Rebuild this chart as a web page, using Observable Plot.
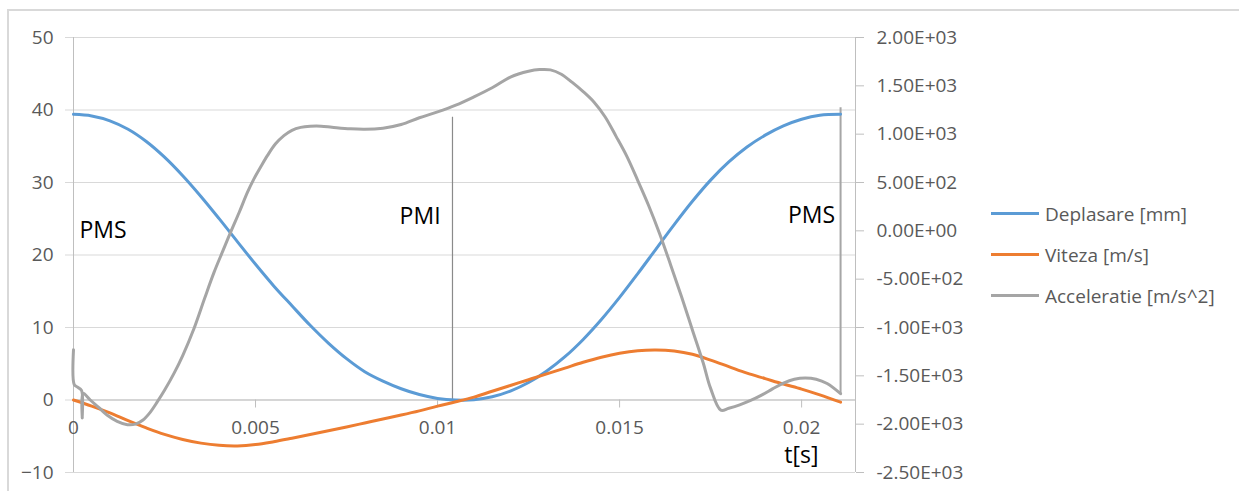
<!DOCTYPE html>
<html><head><meta charset="utf-8">
<script src="https://cdn.jsdelivr.net/npm/d3@7"></script>
<script src="https://cdn.jsdelivr.net/npm/@observablehq/plot@0.6"></script>
<style>
body{margin:0;background:#fff;}
#wrap{position:relative;width:1239px;height:491px;overflow:hidden;font-family:'Open Sans',sans-serif;}
#chart{position:absolute;left:0;top:0;}
#border{position:absolute;left:7px;top:9px;width:1300px;height:600px;border-top:2px solid #d9d9d9;border-left:2px solid #d9d9d9;pointer-events:none;}
#legend{position:absolute;left:991px;top:193px;}
.item{display:flex;align-items:center;height:41px;font-size:19px;color:#595959;white-space:nowrap;}
.sw{width:48px;height:3px;margin-right:6px;}
</style></head>
<body><div id="wrap"><div id="chart"></div><div id="border"></div><div id="legend"></div></div>
<script>
// ---- data ----
const seriesNames = ["Deplasare [mm]", "Viteza [m/s]", "Acceleratie [m/s^2]"];
const seriesColors = ["#5B9BD5", "#ED7D31", "#A5A5A5"];

const time = [0,0.0005,0.001,0.0015,0.002,0.0025,0.003,0.0035,0.004,0.0045,0.005,0.0055,0.006,0.0065,0.007,0.0075,0.008,0.0085,0.009,0.0095,0.01,0.0105,0.011,0.0115,0.012,0.0125,0.013,0.0135,0.014,0.0145,0.015,0.0155,0.016,0.0165,0.017,0.0175,0.018,0.0185,0.019,0.0195,0.02,0.0205,0.02107];
const displacement = [39.4,39.18,38.51,37.34,35.65,33.49,30.93,28.07,25.01,21.85,18.72,15.74,13.0,10.3,7.85,5.7,3.9,2.6,1.55,0.75,0.22,0.0,0.04,0.44,1.23,2.41,4.0,5.97,8.35,11.1,14.15,17.43,20.82,24.19,27.41,30.33,32.83,34.89,36.53,37.81,38.73,39.27,39.4];
const velocity = [0,-0.84,-1.78,-2.85,-3.85,-4.75,-5.45,-5.95,-6.25,-6.33,-6.15,-5.75,-5.27,-4.77,-4.25,-3.72,-3.17,-2.62,-2.08,-1.5,-0.85,-0.25,0.4,1.2,2.0,2.8,3.6,4.4,5.2,5.9,6.45,6.8,6.9,6.75,6.3,5.5,4.6,3.7,2.95,2.2,1.5,0.7,-0.3];

const accelTime = [0,0.00002,0.0001,0.00022,0.00024,0.00026,0.00046,0.0007,0.00092,0.0012,0.00148,0.0017,0.0019,0.0021,0.0023,0.0025,0.00276,0.003,0.00331,0.0036,0.00386,0.0041,0.00432,0.00455,0.00478,0.00496,0.00514,0.00533,0.00555,0.00578,0.006,0.00624,0.0065,0.0068,0.0071,0.0076,0.008,0.0085,0.009,0.0095,0.01,0.0105,0.011,0.0115,0.012,0.0125,0.0128,0.0131,0.0134,0.0137,0.014,0.0143,0.0146,0.0149,0.0152,0.0155,0.0158,0.0161,0.0164,0.0167,0.017,0.0173,0.0175,0.01778,0.018,0.0183,0.0186,0.0189,0.0192,0.0195,0.0198,0.0201,0.0204,0.0207,0.02107];
const acceleration = [-1230,-1590,-1615,-1650,-1935,-1680,-1750,-1830,-1905,-1970,-2005,-2000,-1960,-1880,-1770,-1650,-1475,-1290,-1010,-700,-430,-210,-10,190,400,540,660,780,900,985,1040,1070,1082,1083,1072,1055,1050,1062,1100,1170,1230,1300,1386,1480,1590,1650,1668,1665,1620,1535,1440,1330,1180,980,770,520,260,-30,-350,-680,-1025,-1370,-1630,-1855,-1835,-1800,-1755,-1700,-1635,-1575,-1535,-1522,-1535,-1580,-1685];

const leftTicks = [-10,0,10,20,30,40,50];
const rightTicks = [-2500,-2000,-1500,-1000,-500,0,500,1000,1500,2000];
const rightTickLabels = ["-2.50E+03","-2.00E+03","-1.50E+03","-1.00E+03","-5.00E+02","0.00E+00","5.00E+02","1.00E+03","1.50E+03","2.00E+03"];
const xTicks = [0,0.005,0.01,0.015,0.02];
const xTickLabels = ["0","0.005","0.01","0.015","0.02"];
const xLabel = "t[s]";

const annotations = [
  {label: "PMS", t: 0.00081, v: 23.3},
  {label: "PMI", t: 0.00952, v: 25.3},
  {label: "PMS", t: 0.02027, v: 25.4}
];
const markerTime = [0.01041, 0.02107];
const markerLow = [0, 0.85];
const markerHigh = [39.0, 40.3];

// ---- scales ----
const xDomain = [0, 0.02148];
const yDomain = [-10, 50];
const aDomain = [-2500, 2000];
const toLeft = a => yDomain[0] + (a - aDomain[0]) / (aDomain[1] - aDomain[0]) * (yDomain[1] - yDomain[0]);
const rightTicksLeft = rightTicks.map(toLeft);

const dispData = time.map((t, i) => ({t, v: displacement[i]}));
const velData = time.map((t, i) => ({t, v: velocity[i]}));
const accData = accelTime.map((t, i) => ({t, v: toLeft(acceleration[i])}));
const markers = markerTime.map((t, i) => ({t, y1: markerLow[i], y2: markerHigh[i]}));

const font = "'Open Sans', sans-serif";
const chart = Plot.plot({
  width: 1239,
  height: 491,
  marginLeft: 73,
  marginRight: 384,
  marginTop: 37,
  marginBottom: 19,
  x: {domain: xDomain, axis: null},
  y: {domain: yDomain, axis: null},
  style: {fontFamily: font, fontSize: "19px", color: "#595959", background: "transparent"},
  marks: [
    Plot.gridY(leftTicks, {stroke: "#d9d9d9", strokeOpacity: 1, strokeWidth: 1}),
    Plot.axisY(leftTicks, {anchor: "left", tickSize: 8, tickPadding: 12, stroke: "#d9d9d9", fill: "#595959", fontSize: 19, fontFamily: font}),
    Plot.axisY(rightTicksLeft, {anchor: "right", tickSize: 8, tickPadding: 13, stroke: "#bfbfbf", fill: "#595959", fontSize: 19, fontFamily: font,
      tickFormat: d => rightTickLabels[rightTicksLeft.findIndex(v => Math.abs(v - d) < 1e-9)]}),
    Plot.ruleX([xDomain[0]], {stroke: "#bfbfbf"}),
    Plot.ruleX([xDomain[1]], {stroke: "#bfbfbf"}),
    Plot.ruleY([0], {stroke: "#bfbfbf"}),
    Plot.ruleX(xTicks, {x: d => d, y1: 0, y2: 0, insetBottom: -8, stroke: "#bfbfbf"}),
    Plot.text(xTicks, {x: d => d, y: 0, dy: 28, text: (d, i) => xTickLabels[i], fill: "#595959", fontSize: 19, fontFamily: font}),
    Plot.ruleX(markers.slice(0, 1), {x: "t", y1: "y1", y2: "y2", stroke: "#8a8a8a", strokeWidth: 1.2}),
    Plot.ruleX(markers.slice(1), {x: "t", y1: "y1", y2: "y2", stroke: "#a6a6a6", strokeWidth: 2}),
    Plot.line(dispData, {x: "t", y: "v", stroke: seriesColors[0], strokeWidth: 3, curve: "catmull-rom"}),
    Plot.line(velData, {x: "t", y: "v", stroke: seriesColors[1], strokeWidth: 3, curve: "catmull-rom"}),
    Plot.line(accData, {x: "t", y: "v", stroke: seriesColors[2], strokeWidth: 3, curve: "catmull-rom"}),
    Plot.text(annotations, {x: "t", y: "v", text: "label", fill: "#000", fontSize: 23, fontFamily: font}),
    Plot.text([xLabel], {frameAnchor: "bottom-right", textAnchor: "end", dx: -37, dy: -10, fill: "#000", fontSize: 23, fontFamily: font})
  ]
});
document.getElementById("chart").appendChild(chart);

const legend = document.getElementById("legend");
seriesNames.forEach((name, i) => {
  const row = document.createElement("div");
  row.className = "item";
  const sw = document.createElement("div");
  sw.className = "sw";
  sw.style.background = seriesColors[i];
  const label = document.createElement("span");
  label.textContent = name;
  row.appendChild(sw);
  row.appendChild(label);
  legend.appendChild(row);
});
</script>
</body></html>
